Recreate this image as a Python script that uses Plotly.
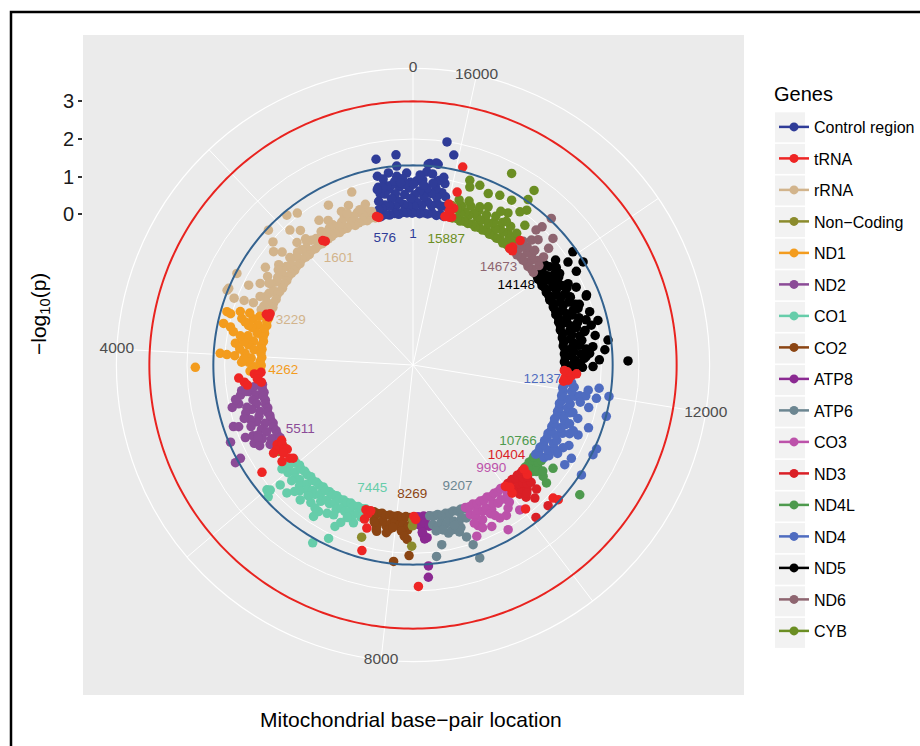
import numpy as np
import plotly.graph_objects as go

GENOME_LENGTH = 16569

# -log10(p) thresholds drawn as reference circles
SUGGESTIVE = 1.30103   # p = 0.05
SIGNIFICANT = 3.0

# radial scale (-log10 p): inner hole starts at -4, outer rim of the panel
R_MIN = -4.0
R_MAX = 3.0
R_OUTER = R_MIN + (R_MAX - R_MIN) * 0.45 / 0.4
LABEL_R = -0.55

GENES = ["Control region", "tRNA", "rRNA", "Non\u2212Coding", "ND1", "ND2", "CO1", "CO2",
         "ATP8", "ATP6", "CO3", "ND3", "ND4L", "ND4", "ND5", "ND6", "CYB"]
COLORS = ["#2F3C98", "#EE2524", "#D2B48C", "#8B8B2C", "#F39C1E", "#8B4B97", "#66CDAA", "#8B4513",
          "#8B2A92", "#6C8691", "#BC52AA", "#DA1F26", "#4E9A4E", "#4F6CC0", "#000000", "#8E6570", "#6B8E23"]

# (base-pair position, -log10 p) per gene
CONTROL_REGION = [
    (16030,0.03),(16035,0.30),(16065,0.55),(16095,0.06),(16105,0.28),(16130,0.64),(16160,0.02),(16175,0.33),
    (16200,0.50),(16225,0.72),(16240,0.07),(16265,0.26),(16290,0.58),(16315,0.03),(16335,0.35),(16360,0.70),
    (16385,0.05),(16400,0.48),(16425,0.24),(16455,0.02),(16470,0.62),(16495,0.31),(16525,0.06),(16540,0.52),
    (16560,0.22),(15,0.03),(35,0.42),(55,0.70),(80,0.21),(105,0.04),(130,0.53),(150,0.27),(180,0.06),(200,0.74),
    (220,0.36),(250,0.02),(270,0.57),(290,0.23),(320,0.05),(340,0.45),(360,0.71),(390,0.26),(410,0.03),(430,0.60),
    (455,0.31),(480,0.06),(500,0.63),(520,0.24),(545,0.44),(560,0.03),(572,0.22),
    (469,1.55),(213,1.60),(16063,1.68),(16170,1.99),(16350,1.37),(16240,1.37),(16265,1.40),(16370,1.34),
    (216,1.30),(492,1.10),(336,1.14),(226,1.03),(87,1.10),(16381,1.14),(16515,0.89),(16430,0.92),(16230,0.90),
    (16110,0.89),(506,0.81),(300,0.82),(380,0.80),(150,0.95),(40,0.85),(16470,1.05),(16300,1.10),(16200,0.95),
    (16140,1.05),(420,1.00),(120,0.80),(260,0.90),(16560,0.80),(16410,0.78),(16280,0.85),(445,0.78),(530,0.75),
    (180,0.85),
]
TRNA = [
    (600,0.02),(635,0.06),(1625,0.03),(1655,0.08),(3235,0.03),(3265,0.12),(3295,0.04),
    (4270,0.04),(4290,0.22),(4320,0.12),(4340,0.64),(4380,0.15),(4410,0.50),(4460,0.43),(4440,0.05),
    (5515,0.02),(5540,0.18),(5575,0.06),(5610,0.28),(5629,0.38),(5670,0.08),(5700,0.02),(5716,0.16),(5772,0.92),
    (5817,0.32),(5850,0.10),(5885,0.03),(7455,0.04),(7480,0.29),(7510,0.12),(7540,0.03),(7557,0.50),(7576,1.11),
    (8300,0.02),(8330,0.10),(8349,1.88),(10000,0.05),(10020,0.30),(10035,0.85),(10050,0.14),
    (10415,0.20),(10424,1.13),(10440,0.04),(10455,1.26),(12145,0.02),(12170,0.14),(12205,0.05),(12250,0.22),
    (12284,0.35),(12310,0.10),(12330,0.02),(14680,0.02),(14695,0.36),(14720,0.10),(14740,0.02),
    (15895,0.06),(15900,0.30),(15910,0.74),(15920,1.42),(15935,0.04),(15960,0.20),(15990,0.38),(16010,0.03),
]
RRNA = [
    (660,0.03),(695,0.22),(735,0.06),(770,0.28),(810,0.02),(845,0.19),(885,0.05),(920,0.31),(960,0.04),(995,0.25),
    (1035,0.01),(1070,0.20),(1110,0.07),(1145,0.33),(1185,0.03),(1220,0.24),(1260,0.05),(1295,0.18),(1335,0.02),
    (1370,0.29),(1410,0.06),(1445,0.26),(1485,0.04),(1520,0.21),(1560,0.03),(1590,0.30),(1690,0.02),(1725,0.23),
    (1765,0.05),(1800,0.27),(1840,0.03),(1875,0.32),(1915,0.06),(1950,0.20),(1990,0.02),(2025,0.25),(2065,0.04),
    (2100,0.29),(2140,0.07),(2175,0.22),(2215,0.03),(2250,0.34),(2290,0.05),(2325,0.19),(2365,0.02),(2400,0.26),
    (2440,0.04),(2475,0.30),(2515,0.06),(2550,0.21),(2590,0.03),(2625,0.28),(2665,0.05),(2700,0.24),(2740,0.02),
    (2775,0.33),(2815,0.04),(2850,0.20),(2890,0.06),(2925,0.27),(2965,0.03),(3000,0.31),(3040,0.05),(3075,0.22),
    (3115,0.02),(3150,0.26),(3190,0.04),(3220,0.29),
    (898,0.87),(1284,0.80),(1013,0.57),(1716,1.07),(1846,1.20),(2163,1.25),(2343,0.77),(2264,0.59),(1837,0.66),
    (1860,0.40),(870,0.36),(2877,1.27),(3102,1.30),(2849,0.60),(3134,1.32),(3200,1.07),(3180,0.80),(1150,0.50),
    (1400,0.45),(1520,0.58),(2000,0.48),(2450,0.45),(2600,0.70),(2700,0.52),(2950,0.85),(3030,0.45),(1950,0.85),
    (2240,0.95),(760,0.45),(1080,0.38),(2520,0.38),(2780,0.40),(3160,0.55),
]
NON_CODING = [
    (5652,0.24),(5660,0.05),(7520,0.77),(8266,0.81),(8275,0.27),(8282,0.12),(15943,0.36),(15950,0.12),
]
ND1 = [
    (3310,0.03),(3330,0.27),(3380,0.05),(3400,0.42),(3450,0.02),(3470,0.25),(3520,0.06),(3540,0.38),(3590,0.03),
    (3610,0.22),(3660,0.05),(3680,0.45),(3730,0.02),(3750,0.28),(3800,0.06),(3820,0.40),(3870,0.03),(3890,0.24),
    (3940,0.05),(3960,0.47),(4010,0.02),(4030,0.30),(4080,0.06),(4100,0.36),(4150,0.03),(4170,0.21),(4220,0.05),
    (4240,0.33),(4255,0.08),
    (3406,1.14),(3420,1.03),(3443,0.71),(3572,1.15),(3659,0.85),(3520,0.49),(3820,0.75),(3780,0.54),(3982,1.13),
    (3995,0.95),(4005,0.74),(4170,1.78),(4100,0.55),(3350,0.80),(3600,0.95),(3900,0.62),(3700,0.65),(3480,0.60),
    (4050,0.50),(3330,0.55),
]
ND2 = [
    (4480,0.03),(4500,0.26),(4550,0.05),(4570,0.40),(4620,0.02),(4640,0.23),(4690,0.06),(4710,0.35),(4760,0.03),
    (4780,0.28),(4830,0.05),(4850,0.44),(4900,0.02),(4920,0.25),(4970,0.06),(4990,0.31),(5040,0.03),(5060,0.42),
    (5110,0.05),(5130,0.22),(5180,0.02),(5200,0.37),(5250,0.06),(5270,0.27),(5320,0.03),(5340,0.45),(5390,0.05),
    (5410,0.24),(5460,0.02),(5480,0.34),(5505,0.08),
    (4750,0.93),(4720,0.74),(4534,0.60),(4600,0.65),(4800,0.55),(4880,0.62),(5013,1.04),(5040,0.91),(5000,0.55),
    (4950,0.70),(5197,1.26),(5220,0.85),(5240,0.65),(5260,0.52),(5468,1.38),(5450,1.21),(5100,0.60),(4650,0.80),
    (5350,0.70),(5300,0.55),(5420,0.60),(4560,0.48),
]
CO1 = [
    (5910,0.03),(5945,0.26),(5980,0.05),(6015,0.38),(6050,0.02),(6085,0.23),(6120,0.06),(6155,0.33),(6190,0.03),
    (6225,0.28),(6260,0.05),(6295,0.40),(6330,0.02),(6365,0.24),(6400,0.06),(6435,0.35),(6470,0.03),(6505,0.27),
    (6540,0.05),(6575,0.31),(6610,0.02),(6645,0.22),(6680,0.06),(6715,0.37),(6750,0.03),(6785,0.26),(6820,0.05),
    (6855,0.30),(6890,0.02),(6925,0.21),(6960,0.06),(6995,0.34),(7030,0.03),(7065,0.25),(7100,0.05),(7135,0.29),
    (7170,0.02),(7205,0.23),(7240,0.06),(7275,0.32),(7310,0.03),(7345,0.20),(7380,0.05),(7415,0.27),(7440,0.02),
    (5910,0.44),(6007,1.10),(6079,0.75),(6090,1.20),(6232,0.77),(6449,0.67),(6752,0.81),(6775,0.63),(6930,1.42),
    (7090,1.12),(7097,0.76),(7333,0.48),(7213,0.41),(6600,0.55),(6350,0.50),(6150,0.45),(6900,0.55),(7000,0.50),
    (6500,0.45),(6040,1.04),(6700,0.60),(6300,0.60),(7150,0.60),
]
CO2 = [
    (7600,0.03),(7635,0.24),(7670,0.05),(7705,0.30),(7740,0.02),(7775,0.22),(7810,0.06),(7845,0.33),(7880,0.03),
    (7915,0.25),(7950,0.05),(7985,0.20),(8020,0.02),(8055,0.28),(8090,0.06),(8125,0.23),(8160,0.03),(8195,0.31),
    (8230,0.05),(8262,0.21),
    (7705,0.48),(7718,0.52),(7869,0.51),(8025,1.24),(8230,1.06),(8195,0.63),(8200,0.38),(7700,0.41),(7900,0.42),
    (8100,0.42),(8150,0.55),(7650,0.30),(7960,0.35),
]
ATP8 = [
    (8370,0.03),(8390,0.25),(8420,0.05),(8440,0.33),(8470,0.02),(8490,0.22),(8520,0.05),(8545,0.30),(8565,0.03),
    (8487,1.35),(8475,1.65),(8460,0.63),(8440,0.50),(8500,0.60),(8430,0.45),
]
ATP6 = [
    (8575,0.03),(8610,0.27),(8645,0.05),(8680,0.35),(8715,0.02),(8750,0.24),(8785,0.06),(8820,0.31),(8855,0.03),
    (8890,0.22),(8925,0.05),(8960,0.29),(8995,0.02),(9030,0.36),(9065,0.06),(9100,0.25),(9135,0.03),(9170,0.30),
    (9200,0.05),
    (8607,1.12),(9163,1.42),(9081,0.78),(9136,1.03),(8703,0.83),(8833,0.56),(8900,0.50),(8760,0.45),(9000,0.60),
    (8650,0.45),(9040,0.50),(8950,0.40),
]
CO3 = [
    (9215,0.03),(9250,0.25),(9285,0.05),(9320,0.34),(9355,0.02),(9390,0.22),(9425,0.06),(9460,0.30),(9495,0.03),
    (9530,0.26),(9565,0.05),(9600,0.37),(9635,0.02),(9670,0.23),(9705,0.06),(9740,0.31),(9775,0.03),(9810,0.27),
    (9845,0.05),(9880,0.33),(9915,0.02),(9950,0.24),(9985,0.05),
    (9225,0.85),(9482,0.77),(9647,0.67),(9831,0.56),(9958,0.78),(9666,1.05),(9300,0.60),(9400,0.50),(9550,0.45),
    (9750,0.70),(9900,0.45),(9350,0.70),(9600,0.55),(9260,0.50),
]
ND3 = [
    (10065,0.03),(10085,0.26),(10105,0.45),(10125,0.05),(10145,0.30),(10165,0.02),(10185,0.40),(10205,0.22),
    (10225,0.06),(10245,0.48),(10265,0.28),(10285,0.03),(10305,0.36),(10325,0.20),(10345,0.05),(10365,0.42),
    (10385,0.25),(10400,0.04),
    (10075,1.20),(10302,1.18),(10240,0.79),(10150,0.62),(10350,0.65),(10200,0.55),
]
ND4L = [
    (10475,0.03),(10500,0.24),(10530,0.05),(10560,0.20),(10590,0.02),(10620,0.27),(10650,0.05),(10680,0.22),
    (10710,0.03),(10740,0.25),(10762,0.05),
    (10549,0.33),(10559,0.55),(10751,0.62),(10518,0.73),(10683,1.61),(10620,0.45),
]
ND4 = [
    (10770,0.03),(10805,0.26),(10840,0.05),(10875,0.34),(10910,0.02),(10945,0.23),(10980,0.06),(11015,0.38),
    (11050,0.03),(11085,0.27),(11120,0.05),(11155,0.31),(11190,0.02),(11225,0.22),(11260,0.06),(11295,0.36),
    (11330,0.03),(11365,0.25),(11400,0.05),(11435,0.33),(11470,0.02),(11505,0.28),(11540,0.06),(11575,0.21),
    (11610,0.03),(11645,0.35),(11680,0.05),(11715,0.26),(11750,0.02),(11785,0.30),(11820,0.06),(11855,0.23),
    (11890,0.03),(11925,0.37),(11960,0.05),(11995,0.27),(12030,0.02),(12065,0.32),(12100,0.06),(12130,0.24),
    (12099,0.98),(12008,1.27),(11953,0.95),(11944,0.50),(11962,0.66),(11665,0.43),(11743,1.31),(11480,0.44),
    (11370,0.76),(11336,0.54),(11295,1.36),(11207,1.34),(11023,0.88),(10894,0.82),(10902,1.34),(11170,0.66),
    (11800,0.80),(11600,0.60),(11100,0.55),(12050,0.70),(11520,0.95),(11400,0.60),(10980,0.50),(11850,0.55),
]
ND5 = [
    (12340,0.03),(12365,0.27),(12390,0.50),(12410,0.06),(12435,0.24),(12460,0.44),(12480,0.02),(12505,0.30),
    (12530,0.55),(12550,0.05),(12575,0.22),(12600,0.47),(12620,0.03),(12645,0.28),(12670,0.62),(12690,0.06),
    (12715,0.25),(12740,0.42),(12760,0.02),(12785,0.31),(12810,0.53),(12830,0.05),(12855,0.23),(12880,0.49),
    (12900,0.03),(12925,0.29),(12950,0.66),(12970,0.06),(12995,0.26),(13020,0.45),(13040,0.02),(13065,0.32),
    (13090,0.51),(13110,0.05),(13135,0.24),(13160,0.58),(13180,0.03),(13205,0.27),(13230,0.43),(13250,0.06),
    (13275,0.30),(13300,0.50),(13320,0.02),(13345,0.22),(13370,0.61),(13390,0.05),(13415,0.28),(13440,0.46),
    (13460,0.03),(13485,0.25),(13510,0.54),(13530,0.06),(13555,0.31),(13580,0.44),(13600,0.02),(13625,0.23),
    (13650,0.57),(13670,0.05),(13695,0.29),(13720,0.48),(13740,0.03),(13765,0.26),(13790,0.42),(13810,0.06),
    (13835,0.30),(13860,0.52),(13880,0.02),(13905,0.24),(13930,0.45),(13950,0.05),(13975,0.28),(14000,0.60),
    (14020,0.03),(14045,0.22),(14070,0.47),(14090,0.06),(14115,0.27),(14140,0.40),
    (13425,0.95),(12762,1.22),(12477,1.71),(12636,1.11),(12694,0.80),(13007,0.85),(12934,0.64),(12741,0.46),
    (12404,0.78),(12553,0.60),(13297,0.63),(14052,1.20),(13863,1.28),(13973,0.94),(13440,0.97),(13899,0.59),
    (13100,0.75),(13200,0.90),(13600,0.80),(13700,0.65),(12850,0.90),(13800,1.00),(12600,0.70),(13500,0.55),
    (13350,0.70),(14100,0.70),(12500,0.95),(13050,1.05),
]
ND6 = [
    (14155,0.03),(14190,0.26),(14225,0.05),(14260,0.33),(14295,0.02),(14330,0.23),(14365,0.06),(14400,0.30),
    (14435,0.03),(14470,0.25),(14505,0.05),(14540,0.36),(14575,0.02),(14610,0.24),(14645,0.06),(14670,0.28),
    (14574,1.35),(14365,1.01),(14587,1.02),(14568,0.57),(14419,0.44),(14250,0.50),(14650,0.40),(14500,0.70),
    (14300,0.75),(14620,0.85),
]
CYB = [
    (14755,0.03),(14790,0.27),(14810,0.45),(14825,0.05),(14860,0.24),(14895,0.02),(14930,0.33),(14950,0.50),
    (14965,0.06),(15000,0.26),(15035,0.03),(15070,0.30),(15090,0.47),(15105,0.05),(15140,0.22),(15175,0.02),
    (15210,0.35),(15230,0.52),(15245,0.06),(15280,0.25),(15315,0.03),(15350,0.31),(15370,0.44),(15385,0.05),
    (15420,0.23),(15455,0.02),(15490,0.28),(15510,0.46),(15525,0.06),(15560,0.34),(15595,0.03),(15630,0.24),
    (15650,0.49),(15665,0.05),(15700,0.29),(15735,0.02),(15770,0.22),(15790,0.42),(15805,0.06),(15840,0.30),
    (15880,0.04),
    (15315,1.72),(14970,1.64),(15782,1.13),(15630,1.09),(15478,0.97),(15322,1.06),(15147,1.10),(14962,0.96),
    (14966,1.35),(14898,1.10),(15097,0.76),(14788,0.75),(15515,0.56),(15754,0.96),(15200,0.70),(15400,0.65),
    (15700,0.60),(15050,0.55),(15850,0.55),
]

GENE_POINTS = {
    "Control region": CONTROL_REGION, "tRNA": TRNA, "rRNA": RRNA, "Non\u2212Coding": NON_CODING,
    "ND1": ND1, "ND2": ND2, "CO1": CO1, "CO2": CO2, "ATP8": ATP8, "ATP6": ATP6, "CO3": CO3,
    "ND3": ND3, "ND4L": ND4L, "ND4": ND4, "ND5": ND5, "ND6": ND6, "CYB": CYB,
}
# small features last so they sit on top of the gene bands
DRAW_ORDER = ["Control region", "rRNA", "ND1", "ND2", "CO1", "CO2", "ATP8", "ATP6", "CO3", "ND3",
              "ND4L", "ND4", "ND5", "ND6", "CYB", "Non\u2212Coding", "tRNA"]

# gene boundary labels
BOUNDARY_BP = [1, 576, 1601, 3229, 4262, 5511, 7445, 8269, 9207, 9990, 10404, 10766, 12137, 14148, 14673, 15887]
BOUNDARY_GENE = ["Control region", "Control region", "rRNA", "rRNA", "ND1", "ND2", "CO1", "CO2", "ATP6",
                 "CO3", "ND3", "ND4L", "ND4", "ND5", "ND6", "CYB"]

AXIS_BREAKS = [0, 4000, 8000, 12000, 16000]
GRID_BREAKS = [0, 2000, 4000, 6000, 8000, 10000, 12000, 14000, 16000]
RADIAL_BREAKS = [0, 1, 2, 3]


def to_deg(bp):
    return [b * 360.0 / GENOME_LENGTH for b in bp]


color_of = dict(zip(GENES, COLORS))

# page geometry (pixels)
W, H = 920, 746
CX, CY = 413, 365
R_PX = 296.6
PANEL = (83, 35, 744, 695)
FONT = "Liberation Sans, Arial, Helvetica, sans-serif"

fig = go.Figure()

for gene in DRAW_ORDER:
    pts = GENE_POINTS[gene]
    fig.add_trace(go.Scatterpolar(
        r=[p[1] for p in pts], theta=to_deg([p[0] for p in pts]), mode="markers",
        marker=dict(size=9.5, color=color_of[gene], line=dict(width=0)),
        showlegend=False, hoverinfo="skip"))

# threshold circles
ring = np.linspace(0, 360, 361)
for level, col in [(SUGGESTIVE, "#33628F"), (SIGNIFICANT, "#E8231F")]:
    fig.add_trace(go.Scatterpolar(r=[level] * len(ring), theta=ring, mode="lines",
                                  line=dict(color=col, width=2), showlegend=False, hoverinfo="skip"))

# boundary position labels
fig.add_trace(go.Scatterpolar(
    r=[LABEL_R] * len(BOUNDARY_BP), theta=to_deg(BOUNDARY_BP), mode="text",
    text=[str(b) for b in BOUNDARY_BP],
    textfont=dict(size=13.5, color=[color_of[g] for g in BOUNDARY_GENE], family=FONT),
    textposition="middle center", showlegend=False, hoverinfo="skip", cliponaxis=False))

# angular axis labels centred on the outer rim
fig.add_trace(go.Scatterpolar(
    r=[R_OUTER] * len(AXIS_BREAKS), theta=to_deg(AXIS_BREAKS), mode="text",
    text=[str(b) for b in AXIS_BREAKS], textfont=dict(size=15.5, color="#4D4D4D", family=FONT),
    textposition="middle center", showlegend=False, hoverinfo="skip", cliponaxis=False))

# legend entries (point + line keys)
for gene in GENES:
    fig.add_trace(go.Scatterpolar(
        r=[None], theta=[None], mode="lines+markers", name=gene, legendgroup=gene,
        marker=dict(size=9, color=color_of[gene]), line=dict(color=color_of[gene], width=2.5),
        showlegend=True, hoverinfo="skip"))

# cartesian frame carrying the -log10(p) axis on the left
fig.add_trace(go.Scatter(x=[None], y=[None], showlegend=False, hoverinfo="skip"))

pol_x = [(CX - R_PX) / W, (CX + R_PX) / W]
pol_y = [1 - (CY + R_PX) / H, 1 - (CY - R_PX) / H]

fig.update_layout(
    width=W, height=H, margin=dict(l=0, r=0, t=0, b=0),
    paper_bgcolor="white", plot_bgcolor="rgba(0,0,0,0)",
    font=dict(family=FONT, color="#000000"),
    polar=dict(
        domain=dict(x=pol_x, y=pol_y), bgcolor="rgba(0,0,0,0)",
        radialaxis=dict(range=[R_MIN, R_OUTER], tickvals=RADIAL_BREAKS, showticklabels=False, ticks="",
                        showline=False, gridcolor="white", gridwidth=1.2, layer="below traces"),
        angularaxis=dict(rotation=90, direction="counterclockwise", tickvals=to_deg(GRID_BREAKS),
                         showticklabels=False, ticks="", showline=True, linecolor="white", linewidth=1.2,
                         gridcolor="white", gridwidth=1.2, layer="below traces"),
    ),
    xaxis=dict(domain=[PANEL[0] / W, PANEL[2] / W], range=[0, 1], visible=False),
    yaxis=dict(domain=pol_y, range=[R_MIN - (R_OUTER - R_MIN), R_OUTER], tickvals=RADIAL_BREAKS,
               ticks="outside", ticklen=4, tickwidth=1.5, tickcolor="#333333", showgrid=False,
               zeroline=False, showline=False, tickfont=dict(size=20, color="#1A1A1A")),
    legend=dict(x=774 / W, xanchor="left", y=1 - 110 / H, yanchor="top", bgcolor="rgba(0,0,0,0)",
                font=dict(size=16), tracegroupgap=7.7, itemwidth=30),
    showlegend=True,
)

shapes = [
    dict(type="rect", xref="paper", yref="paper", x0=PANEL[0] / W, x1=PANEL[2] / W,
         y0=1 - PANEL[3] / H, y1=1 - PANEL[1] / H, fillcolor="#EBEBEB", line=dict(width=0), layer="below"),
    dict(type="rect", xref="paper", yref="paper", x0=11 / W, x1=1.05, y0=-0.05, y1=1 - 12 / H,
         line=dict(color="black", width=2.5), fillcolor="rgba(0,0,0,0)", layer="above"),
]
KEY_Y0, KEY_STEP = 127.3, 31.6
for i in range(len(GENES)):
    yc = KEY_Y0 + KEY_STEP * i
    shapes.append(dict(type="rect", xref="paper", yref="paper", x0=775 / W, x1=805 / W,
                       y0=1 - (yc + 15) / H, y1=1 - (yc - 15) / H, fillcolor="#F2F2F2",
                       line=dict(width=0), layer="below"))
fig.update_layout(shapes=shapes)

fig.add_annotation(x=772 / W, y=1 - 94 / H, xref="paper", yref="paper", showarrow=False,
                   xanchor="left", yanchor="middle", text="Genes", font=dict(size=20, color="#000000"))
fig.add_annotation(x=411 / W, y=1 - 719 / H, xref="paper", yref="paper", showarrow=False,
                   xanchor="center", yanchor="middle",
                   text="Mitochondrial base\u2212pair location", font=dict(size=21, color="#000000"))
fig.add_annotation(x=40 / W, y=1 - 314 / H, xref="paper", yref="paper", showarrow=False, textangle=-90,
                   xanchor="center", yanchor="middle",
                   text="\u2212log<sub>10</sub>(p)", font=dict(size=21, color="#000000"))

fig.write_html("out.html")
